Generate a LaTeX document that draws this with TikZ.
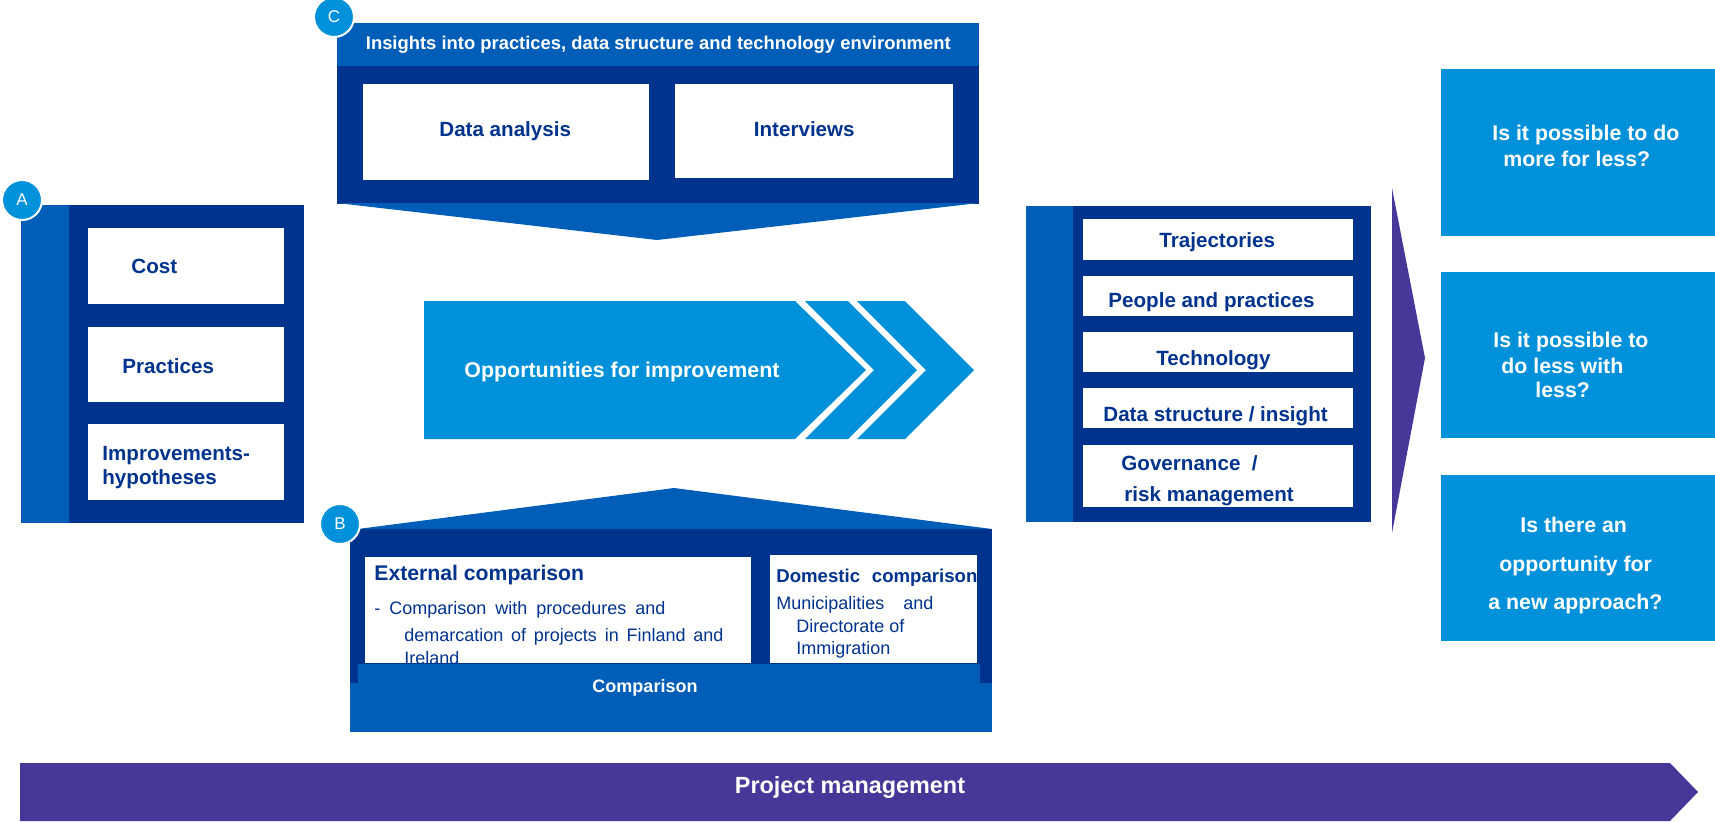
\documentclass[tikz,border=0pt]{standalone}
\usepackage{fontspec}
\setmainfont{Liberation Sans}
\definecolor{navy}{RGB}{0,51,141}
\definecolor{midblue}{RGB}{0,94,184}
\definecolor{lightblue}{RGB}{0,145,218}
\definecolor{kpurple}{RGB}{72,54,152}
\newcommand\setfs[1]{\fontsize{#1}{#1}\selectfont}
\tikzset{
  lbl/.style={inner sep=0pt, anchor=base west, text=navy, font=\bfseries\setfs{10.3}},
  qlbl/.style={inner sep=0pt, anchor=base west, text=white, font=\bfseries\setfs{10.65}},
  wlbl/.style={inner sep=0pt, anchor=base west, text=white, font=\bfseries\setfs{9.2}},
  body/.style={inner sep=0pt, anchor=base west, text=navy, font=\setfs{9}},
  badge/.style={circle, fill=lightblue, draw=white, line width=1pt, minimum size=20pt, inner sep=0pt, text=white, font=\setfs{8.5}},
}
\begin{document}
\begin{tikzpicture}[x=0.5pt,y=-0.5pt]
\useasboundingbox (0,0) rectangle (1715,821);

% ---- A panel
\fill[midblue] (21,205) rectangle (69,523);
\fill[navy] (69,205) rectangle (304,523);
\fill[white] (88,228) rectangle (284,304);
\fill[white] (88,327) rectangle (284,402);
\fill[white] (88,424) rectangle (284,500);
\node[lbl] (cost) at (131,273) {Cost};
\node[lbl] (pract) at (122,373) {Practices};
\node[lbl] (impr1) at (102,460) {Improvements-};
\node[lbl] (impr2) at (102,484) {hypotheses};

% ---- C panel
\fill[midblue] (337,23) rectangle (979,66);
\fill[navy] (337,66) rectangle (979,204);
\fill[midblue] (337,203) -- (979,203) -- (657,240) -- cycle;
\fill[white] (363,84) rectangle (649,180);
\fill[white] (675,84) rectangle (953,178);
\node[wlbl] (hdr) at (365.5,49.3) {Insights into practices, data structure and technology environment};
\node[lbl] (da) at (439,136) {Data analysis};
\node[lbl] (iv) at (753.5,136) {Interviews};

% ---- chevrons
\fill[lightblue] (424,301) -- (795,301) -- (866,370) -- (795,439) -- (424,439) -- cycle;
\fill[lightblue] (805,301) -- (848,301) -- (917,370) -- (848,439) -- (805,439) -- (874,370) -- cycle;
\fill[lightblue] (857,301) -- (905,301) -- (974,370) -- (905,439) -- (857,439) -- (926,370) -- cycle;
\node[wlbl, font=\bfseries\setfs{10.7}] (opp) at (464,377) {Opportunities for improvement};

% ---- B panel
\fill[midblue] (350,530) -- (674,488) -- (992,529) -- cycle;
\fill[navy] (350,529) rectangle (992,700);
\fill[white] (365,557) rectangle (751,663);
\fill[white] (770,555) rectangle (977,663);
\node[lbl, font=\bfseries\setfs{10.6}] (ext) at (374,580) {External comparison};
\node[body] (ext1) at (374,614) {\makebox[145.5pt][s]{- Comparison with procedures and}};
\node[body] (ext2) at (404,641) {\makebox[159.5pt][s]{demarcation of projects in Finland and}};
\node[body] (ext3) at (404,664) {Ireland};
\node[lbl, font=\bfseries\setfs{9.3}] (dom) at (776,582) {\makebox[100.5pt][s]{Domestic comparison}};
\node[body] (dom1) at (776,609) {\makebox[78.5pt][s]{Municipalities and}};
\node[body] (dom2) at (796,632) {Directorate of};
\node[body] (dom3) at (796,654) {Immigration};
\fill[midblue] (358,664) rectangle (980,700);
\fill[midblue] (350,683) rectangle (992,732);
\node[wlbl, anchor=base, font=\bfseries\setfs{9}] (cmp) at (645,692) {Comparison};

% ---- right panel
\fill[midblue] (1026,206) rectangle (1073,522);
\fill[navy] (1073,206) rectangle (1371,522);
\fill[white] (1083,219) rectangle (1353,260);
\fill[white] (1083,276) rectangle (1353,316);
\fill[white] (1083,332) rectangle (1353,372);
\fill[white] (1083,388) rectangle (1353,428);
\fill[white] (1083,445) rectangle (1353,507);
\node[lbl] (traj) at (1159,247) {Trajectories};
\node[lbl] (people) at (1108,307) {People and practices};
\node[lbl] (tech) at (1156,365) {Technology};
\node[lbl] (dsi) at (1103,421) {Data structure / insight};
\node[lbl] (gov1) at (1121,470) {Governance\ \ /};
\node[lbl] (gov2) at (1124,501) {risk management};

% ---- purple arrowhead
\fill[kpurple] (1392,188) -- (1425,358) -- (1392,533) -- cycle;

% ---- question boxes
\fill[lightblue] (1441,69) rectangle (1715,236);
\fill[lightblue] (1441,272) rectangle (1715,438);
\fill[lightblue] (1441,475) rectangle (1715,641);
\node[qlbl] (q1a) at (1492,140) {Is it possible to do};
\node[qlbl] (q1b) at (1503,166) {more for less?};
\node[qlbl] (q2a) at (1493,347) {Is it possible to};
\node[qlbl] (q2b) at (1501,373) {do less with};
\node[qlbl] (q2c) at (1535,397) {less?};
\node[qlbl] (q3a) at (1520,532) {Is there an};
\node[qlbl] (q3b) at (1499,571) {opportunity for};
\node[qlbl] (q3c) at (1488,609) {a new approach?};

% ---- project management
\fill[kpurple] (20,763) -- (1670,763) -- (1698,792) -- (1670,821) -- (20,821) -- cycle;
\node[wlbl, anchor=base, font=\bfseries\setfs{11.7}] (pm) at (850,793) {Project management};

% ---- badges
\node[badge] (bA) at (22,200) {A};
\node[badge] (bB) at (340,524) {B};
\node[badge] (bC) at (334,17) {C};
\end{tikzpicture}
\end{document}
